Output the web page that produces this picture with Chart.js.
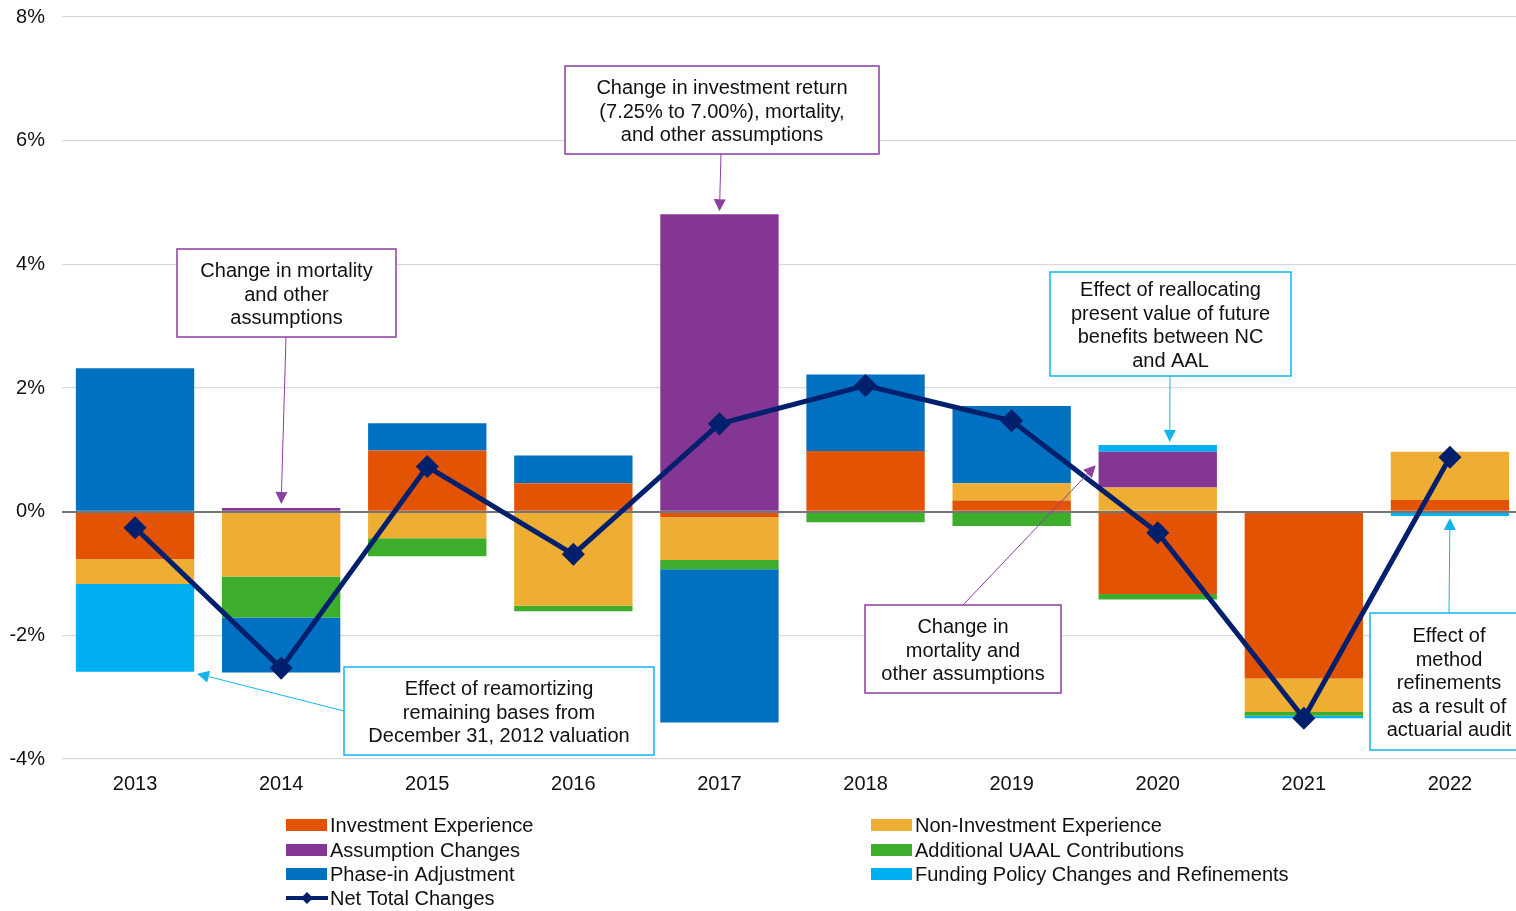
<!DOCTYPE html>
<html>
<head>
<meta charset="utf-8">
<script src="https://cdn.jsdelivr.net/npm/chart.js@4/dist/chart.umd.min.js"></script>
<style>
  html, body { margin: 0; padding: 0; background: #fff; overflow: hidden; }
  #wrap { position: relative; width: 1536px; height: 911px; }
</style>
</head>
<body>
<div id="wrap"><canvas id="chart"></canvas></div>
<script>
// values in % of payroll
const years = ['2013', '2014', '2015', '2016', '2017', '2018', '2019', '2020', '2021', '2022'];
const investmentExperience    = [-0.77,  0.00,  0.99,  0.46, -0.09,  0.98,  0.18, -1.33, -2.70,  0.19];
const nonInvestmentExperience = [-0.40, -1.05, -0.43, -1.52, -0.69,  0.00,  0.28,  0.39, -0.54,  0.78];
const assumptionChanges       = [ 0.00,  0.06,  0.00,  0.00,  4.81,  0.00,  0.00,  0.58,  0.00,  0.00];
const additionalUaal          = [ 0.00, -0.66, -0.29, -0.09, -0.15, -0.17, -0.23, -0.09, -0.06,  0.00];
const phaseInAdjustment       = [ 2.32, -0.89,  0.44,  0.45, -2.48,  1.24,  1.25,  0.00,  0.00,  0.00];
const fundingPolicy           = [-1.42,  0.00,  0.00,  0.00,  0.00,  0.00,  0.00,  0.11, -0.04, -0.07];
const netTotal                = [-0.26, -2.53,  0.73, -0.69,  1.42,  2.04,  1.47, -0.34, -3.34,  0.88];
const yTicks = [-4, -2, 0, 2, 4, 6, 8];

const FONT = '"Liberation Sans", Arial, sans-serif';
const PURPLE_LINE = '#8B3FA0';
const CYAN_LINE = '#14B4EC';
const PLOT_TOP = 17;

const colors = {
  invest: '#E25303',
  nonInvest: '#EDAE33',
  assumption: '#833694',
  uaal: '#3DAE2B',
  phaseIn: '#0070C0',
  funding: '#00B0F0',
  net: '#00206E'
};

const bar = (label, data, color) => ({
  type: 'bar', label, data, backgroundColor: color, borderWidth: 0, stack: 'parts', order: 1
});

// callout boxes; arrow tips are tied to data via [index, dx, value, dy]
const callouts = [
  { lines: ['Change in mortality', 'and other', 'assumptions'], color: PURPLE_LINE,
    box: [177, 249, 396, 337], from: [286, 337], tip: [1, 0, 0.06, -4] },
  { lines: ['Change in investment return', '(7.25% to 7.00%), mortality,', 'and other assumptions'], color: PURPLE_LINE,
    box: [565, 66, 879, 154], from: [721, 154], tip: [4, 0, 4.81, -3] },
  { lines: ['Effect of reallocating', 'present value of future', 'benefits between NC', 'and AAL'], color: CYAN_LINE,
    box: [1050, 272, 1291, 376], from: [1170, 376], tip: [7, 12, 1.08, -3] },
  { lines: ['Change in', 'mortality and', 'other assumptions'], color: PURPLE_LINE,
    box: [865, 605, 1061, 693], from: [963, 605], tip: [7, -62, 0.75, 0] },
  { lines: ['Effect of reamortizing', 'remaining bases from', 'December 31, 2012 valuation'], color: CYAN_LINE,
    box: [344, 667, 654, 755], from: [344, 711], tip: [0, 62, -2.62, 0] },
  { lines: ['Effect of', 'method', 'refinements', 'as a result of', 'actuarial audit'], color: CYAN_LINE,
    box: [1370, 613, 1528, 750], from: [1449, 613], tip: [9, 0, -0.07, 2] }
];

function arrow(ctx, x1, y1, x2, y2, color) {
  const ang = Math.atan2(y2 - y1, x2 - x1);
  const len = 12, half = 6;
  const bx = x2 - Math.cos(ang) * len, by = y2 - Math.sin(ang) * len;
  ctx.strokeStyle = color;
  ctx.lineWidth = 1;
  ctx.beginPath();
  ctx.moveTo(x1, y1);
  ctx.lineTo(bx, by);
  ctx.stroke();
  ctx.fillStyle = color;
  ctx.beginPath();
  ctx.moveTo(x2, y2);
  ctx.lineTo(bx - Math.sin(ang) * half, by + Math.cos(ang) * half);
  ctx.lineTo(bx + Math.sin(ang) * half, by - Math.cos(ang) * half);
  ctx.closePath();
  ctx.fill();
}

// pin the top of the plot area where the original has it
const plotTopPlugin = {
  id: 'plotTop',
  afterLayout(chart) {
    const y = chart.scales.y;
    const area = chart.chartArea;
    area.top = PLOT_TOP;
    area.height = area.bottom - PLOT_TOP;
    y.top = PLOT_TOP;
    y.height = y.bottom - PLOT_TOP;
    y.configure();
  }
};

// zero line sits over the bars but under the net total line
const zeroLinePlugin = {
  id: 'zeroLine',
  beforeDatasetDraw(chart, args) {
    if (args.meta.type !== 'line') return;
    const { ctx, chartArea, scales: { y } } = chart;
    const y0 = Math.round(y.getPixelForValue(0));
    ctx.save();
    ctx.strokeStyle = '#767676';
    ctx.lineWidth = 2;
    ctx.beginPath();
    ctx.moveTo(chartArea.left, y0);
    ctx.lineTo(chartArea.right, y0);
    ctx.stroke();
    ctx.restore();
  }
};

const calloutPlugin = {
  id: 'callouts',
  afterDatasetsDraw(chart) {
    const { ctx, scales: { x, y } } = chart;
    ctx.save();
    callouts.forEach(c => {
      const [l, t, r, b] = c.box;
      const tx = x.getPixelForValue(c.tip[0]) + c.tip[1];
      const ty = y.getPixelForValue(c.tip[2]) + c.tip[3];
      arrow(ctx, c.from[0], c.from[1], tx, ty, c.color);
      ctx.fillStyle = '#fff';
      ctx.fillRect(l, t, r - l, b - t);
      ctx.strokeStyle = c.color;
      ctx.lineWidth = 1.5;
      ctx.strokeRect(l, t, r - l, b - t);
      ctx.fillStyle = '#111';
      ctx.font = '20px ' + FONT;
      ctx.textAlign = 'center';
      ctx.textBaseline = 'middle';
      const lh = 23.5;
      const cy = (t + b) / 2 + 2;
      const cx = (l + r) / 2;
      c.lines.forEach((line, i) => {
        ctx.fillText(line, cx, cy + (i - (c.lines.length - 1) / 2) * lh);
      });
    });
    ctx.restore();
  }
};

// two-column legend under the axis
const legendPlugin = {
  id: 'twoColLegend',
  afterDraw(chart) {
    const { ctx } = chart;
    const items = chart.data.datasets;
    const colX = [286, 871];
    const rowY = [825, 850, 874, 898];
    ctx.save();
    ctx.font = '20px ' + FONT;
    ctx.textBaseline = 'middle';
    ctx.textAlign = 'left';
    items.forEach((ds, i) => {
      const cx = colX[i % 2];
      const cy = rowY[Math.floor(i / 2)];
      if (ds.type === 'line') {
        ctx.strokeStyle = ds.borderColor;
        ctx.lineWidth = 4;
        ctx.beginPath();
        ctx.moveTo(cx, cy);
        ctx.lineTo(cx + 42, cy);
        ctx.stroke();
        ctx.fillStyle = ds.borderColor;
        ctx.beginPath();
        ctx.moveTo(cx + 21, cy - 6);
        ctx.lineTo(cx + 27, cy);
        ctx.lineTo(cx + 21, cy + 6);
        ctx.lineTo(cx + 15, cy);
        ctx.closePath();
        ctx.fill();
      } else {
        ctx.fillStyle = ds.backgroundColor;
        ctx.fillRect(cx, cy - 6, 41, 12);
      }
      ctx.fillStyle = '#111';
      ctx.fillText(ds.label, cx + 44, cy + 1);
    });
    ctx.restore();
  }
};

new Chart(document.getElementById('chart'), {
  data: {
    labels: years,
    datasets: [
      bar('Investment Experience', investmentExperience, colors.invest),
      bar('Non-Investment Experience', nonInvestmentExperience, colors.nonInvest),
      bar('Assumption Changes', assumptionChanges, colors.assumption),
      bar('Additional UAAL Contributions', additionalUaal, colors.uaal),
      bar('Phase-in Adjustment', phaseInAdjustment, colors.phaseIn),
      bar('Funding Policy Changes and Refinements', fundingPolicy, colors.funding),
      {
        type: 'line', label: 'Net Total Changes', data: netTotal, stack: 'net', order: 0,
        borderColor: colors.net, backgroundColor: colors.net, borderWidth: 5,
        pointStyle: 'rectRot', pointRadius: 8, pointHoverRadius: 8, tension: 0
      }
    ]
  },
  options: {
    responsive: true,
    maintainAspectRatio: false,
    animation: false,
    datasets: { bar: { barPercentage: 1, categoryPercentage: 0.81 } },
    layout: { padding: { top: 6, right: 2, bottom: 102, left: 0 } },
    plugins: { legend: { display: false }, tooltip: { enabled: false } },
    scales: {
      x: {
        stacked: true,
        grid: { display: false },
        border: { display: false },
        ticks: { color: '#111', font: { family: FONT, size: 20 }, padding: 5, maxRotation: 0 },
        afterFit: s => { s.height = 50; }
      },
      y: {
        stacked: true,
        min: -4,
        max: 8,
        afterBuildTicks: s => { s.ticks = yTicks.map(v => ({ value: v })); },
        grid: {
          drawTicks: false,
          color: c => c.tick && c.tick.value === 0 ? '#767676' : '#D9D9D9',
          lineWidth: c => c.tick && c.tick.value === 0 ? 2 : 1.2
        },
        border: { display: false },
        ticks: { color: '#111', font: { family: FONT, size: 20 }, padding: 17, callback: v => v + '%' },
        afterFit: s => { s.width = 62; }
      }
    }
  },
  plugins: [plotTopPlugin, zeroLinePlugin, calloutPlugin, legendPlugin]
});
</script>
</body>
</html>
